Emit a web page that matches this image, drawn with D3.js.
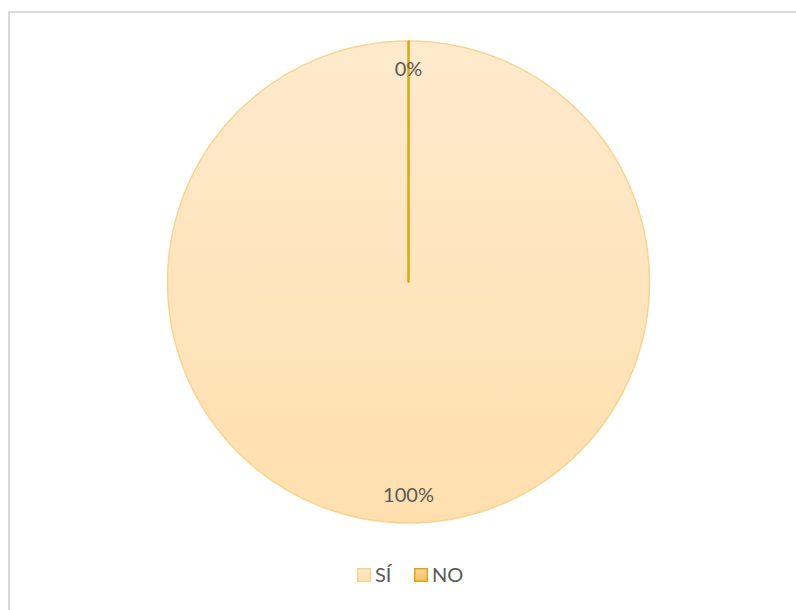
<!DOCTYPE html>
<html><head><meta charset="utf-8">
<script src="https://cdn.jsdelivr.net/npm/d3@7"></script>
<style>body{margin:0;background:#fff}svg{display:block}</style>
</head><body>
<svg id="c" width="796" height="610"></svg>
<script>
const categories = ["SÍ", "NO"];
const values = [100, 0];
const labels = ["100%", "0%"];

const svg = d3.select("#c");
const W = 796, H = 610;
svg.append("rect").attr("x", 9).attr("y", 12).attr("width", W).attr("height", H)
  .attr("fill", "#fff").attr("stroke", "#d9d9d9").attr("stroke-width", 2);

const defs = svg.append("defs");
const g1 = defs.append("linearGradient").attr("id", "gSi").attr("x1", 0).attr("y1", 0).attr("x2", 0).attr("y2", 1);
g1.append("stop").attr("offset", "0%").attr("stop-color", "#ffeacd");
g1.append("stop").attr("offset", "100%").attr("stop-color", "#ffdfae");
const g2 = defs.append("linearGradient").attr("id", "gNo").attr("x1", 0).attr("y1", 0).attr("x2", 0).attr("y2", 1);
g2.append("stop").attr("offset", "0%").attr("stop-color", "#fbd59a");
g2.append("stop").attr("offset", "100%").attr("stop-color", "#f5c06a");

const fills = ["url(#gSi)", "url(#gNo)"];
const strokes = ["#fad38f", "#e0a50c"];
const strokeW = [1.5, 2];

const cx = 408.5, cy = 282, R = 241;
const pie = d3.pie().sort(null).value(d => d)(values);
const arc = d3.arc().innerRadius(0).outerRadius(R);
const gp = svg.append("g").attr("transform", `translate(${cx},${cy})`);
gp.selectAll("path").data(pie).enter().append("path")
  .attr("d", arc)
  .attr("fill", (d, i) => fills[i])
  .attr("stroke", (d, i) => strokes[i])
  .attr("stroke-width", (d, i) => strokeW[i])
  .attr("stroke-linejoin", "round");
// zero slice drawn as a radial line
pie.forEach((d, i) => {
  if (d.endAngle - d.startAngle < 1e-9) {
    const a = d.startAngle;
    gp.append("line").attr("x1", 0).attr("y1", 0)
      .attr("x2", R * Math.sin(a)).attr("y2", -R * Math.cos(a))
      .attr("stroke", strokes[i]).attr("stroke-width", 2);
  }
});

const labelArc = d3.arc().innerRadius(R * 0.885).outerRadius(R * 0.885);
gp.selectAll("text.lbl").data(pie).enter().append("text")
  .attr("class", "lbl")
  .attr("x", d => labelArc.centroid(d)[0])
  .attr("y", d => labelArc.centroid(d)[1])
  .attr("text-anchor", "middle").attr("dy", "0.35em")
  .attr("font-family", "Lato, 'Open Sans', sans-serif").attr("font-size", 20)
  .attr("fill", "#595959")
  .text((d, i) => labels[i]);

// legend
const leg = svg.append("g").attr("transform", "translate(357,568)");
const xs = [0, 57];
categories.forEach((c, i) => {
  const gg = leg.append("g").attr("transform", `translate(${xs[i]},0)`);
  gg.append("rect").attr("x", 0.75).attr("y", 0.75).attr("width", 12.5).attr("height", 12.5)
    .attr("fill", fills[i]).attr("stroke", strokes[i]).attr("stroke-width", 1.5);
  gg.append("text").attr("x", 18).attr("y", 7).attr("dy", "0.36em")
    .attr("font-family", "Lato, 'Open Sans', sans-serif").attr("font-size", 20)
    .attr("fill", "#595959").text(c);
});
</script>
</body></html>
